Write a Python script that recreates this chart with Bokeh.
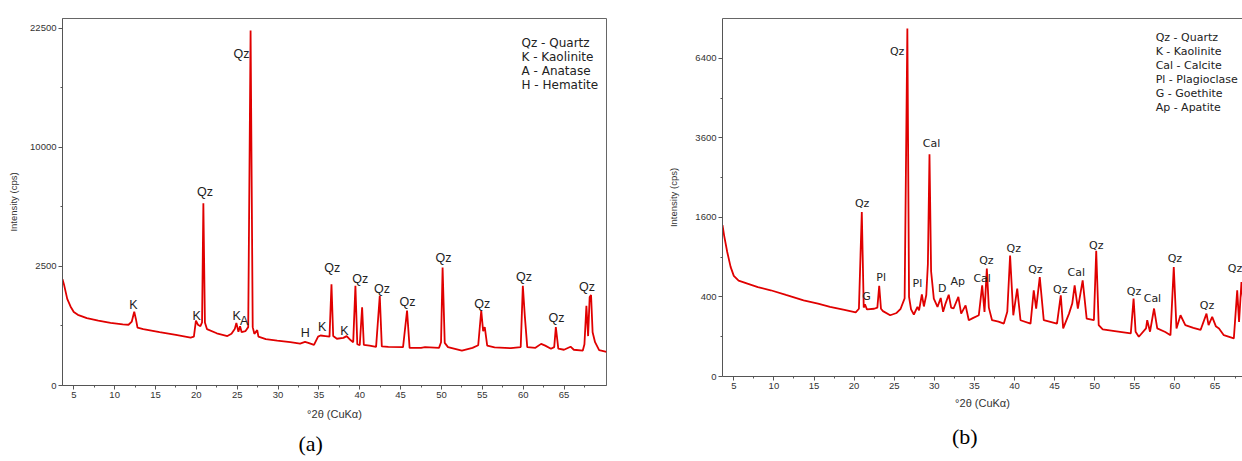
import numpy as np
from bokeh.plotting import figure
from bokeh.models import FixedTicker, LinearAxis, CustomJSTickFormatter
from bokeh.layouts import row
from bokeh.embed import file_html
from bokeh.resources import INLINE
from bokeh.core.properties import value

# ---------------- Panel (a) data ----------------
a_two_theta = [3.62, 3.8, 4.2, 4.6, 5.0, 5.5, 6.6, 8.0, 9.5, 11.0, 11.7, 12.1, 12.4, 12.6, 12.8,
               13.5, 15.5, 17.5, 19.3, 19.7, 19.95, 20.2, 20.5, 20.7, 20.86, 21.05, 21.3, 22.5,
               23.8, 24.3, 24.7, 24.9, 25.15, 25.35, 25.55, 26.0, 26.35, 26.64, 26.9, 27.1, 27.45,
               27.6, 28.5, 29.9, 31.5, 32.7, 33.3, 33.7, 34.4, 34.9, 35.2, 35.8, 36.3, 36.54,
               36.75, 37.2, 38.0, 38.4, 38.9, 39.2, 39.47, 39.7, 40.0, 40.29, 40.5, 41.2, 42.0,
               42.45, 42.7, 43.5, 45.3, 45.79, 46.1, 47.5, 48.0, 49.7, 49.95, 50.14, 50.4, 50.8,
               52.5, 53.8, 54.5, 54.87, 55.1, 55.3, 55.6, 56.5, 58.5, 59.7, 59.96, 60.2, 60.5,
               61.5, 62.2, 62.7, 63.4, 63.8, 64.0, 64.3, 65.0, 65.8, 66.2, 67.3, 67.5, 67.74,
               67.95, 68.14, 68.31, 68.5, 68.8, 69.3, 70.2]
a_intensity = [1990, 1800, 1320, 1100, 950, 880, 800, 740, 690, 660, 650, 720, 960, 780, 590,
               560, 500, 450, 405, 420, 740, 650, 620, 700, 5850, 700, 560, 480,
               430, 470, 560, 690, 510, 620, 500, 520, 600, 22200, 600, 470, 540,
               420, 380, 355, 330, 310, 335, 320, 290, 420, 440, 430, 420, 1800,
               430, 385, 400, 430, 360, 330, 1750, 300, 285, 1080, 290, 280, 262,
               1420, 270, 262, 258, 990, 250, 250, 260, 250, 330, 2450, 320, 260,
               215, 250, 285, 990, 520, 600, 280, 255, 245, 260, 1750, 860, 260,
               250, 305, 280, 238, 260, 600, 240, 225, 265, 225, 215, 300, 1120,
               430, 1380, 1440, 500, 330, 220, 200]
a_label_text = ["K", "K", "Qz", "K", "A", "Qz", "H", "K", "Qz", "K", "Qz", "Qz", "Qz", "Qz",
                "Qz", "Qz", "Qz", "Qz"]
a_label_x = [12.3, 20.05, 21.06, 24.93, 25.85, 25.54, 33.34, 35.41, 36.63, 38.13, 40.05, 42.73,
             45.85, 50.24, 55.0, 60.09, 64.07, 67.8]
a_label_y = [1139, 858, 6561, 858, 740, 19404, 488, 598, 2421, 520, 1989, 1656, 1218, 2841,
             1170, 2070, 795, 1714]
a_legend = ["Qz - Quartz", "K - Kaolinite", "A - Anatase", "H - Hematite"]
a_yticks = [0, 2500, 10000, 22500]
a_yminor = [625, 5625, 15625]
a_caption = "(a)"

# ---------------- Panel (b) data ----------------
b_two_theta = [3.59, 3.8, 4.18, 4.6, 5.0, 5.6, 6.7, 8.0, 9.6, 11.5, 13.7, 15.5, 17.0, 18.8,
               20.2, 20.6, 20.96, 21.2, 21.35, 21.6, 22.5, 22.9, 23.13, 23.35, 23.6, 24.5, 25.3,
               25.8, 26.3, 26.64, 26.85, 27.1, 27.45, 27.9, 28.1, 28.45, 28.7, 29.0, 29.2, 29.4,
               29.6, 29.94, 30.4, 30.8, 31.1, 31.4, 31.8, 32.1, 32.4, 33.0, 33.35, 33.9, 34.3,
               34.8, 35.55, 35.97, 36.26, 36.55, 36.8, 37.2, 38.0, 38.67, 39.1, 39.45, 39.85,
               40.34, 40.75, 42.0, 42.4, 42.7, 43.15, 43.65, 45.3, 45.77, 46.07, 46.8, 47.2,
               47.5, 47.9, 48.5, 49.0, 49.9, 50.19, 50.5, 51.0, 52.5, 54.5, 54.85, 55.1, 55.5,
               56.4, 56.55, 56.9, 57.4, 57.8, 58.8, 59.45, 59.86, 60.2, 60.7, 61.3, 62.3, 63.2,
               63.94, 64.2, 64.65, 65.1, 65.5, 66.1, 67.35, 67.77, 68.0, 68.3, 68.6]
b_intensity = [1450, 1250, 980, 760, 640, 580, 545, 505, 470, 420, 367, 335, 306, 280,
               260, 290, 1710, 300, 330, 285, 290, 300, 520, 290, 270, 237, 255,
               290, 385, 7650, 400, 285, 243, 306, 277, 425, 310, 420, 800, 3120,
               700, 383, 306, 390, 264, 336, 423, 300, 292, 400, 250, 320, 200,
               215, 237, 525, 264, 735, 300, 200, 190, 177, 264, 925, 237,
               488, 200, 177, 469, 292, 625, 200, 177, 416, 146, 250, 336,
               525, 292, 583, 212, 200, 1000, 167, 140, 130, 117, 383, 127, 100,
               146, 200, 127, 292, 146, 125, 108, 756, 146, 237, 167, 150, 137,
               250, 167, 225, 160, 146, 108, 92, 469, 188, 564, 300]
b_label_text = ["Qz", "G", "Pl", "Qz", "Pl", "Cal", "D", "Ap", "Cal", "Qz", "Qz", "Qz", "Qz",
                "Cal", "Qz", "Qz", "Cal", "Qz", "Qz", "Qz"]
b_label_x = [21.0, 21.55, 23.38, 25.37, 27.9, 29.65, 31.0, 32.93, 35.97, 36.5, 39.9, 42.6,
             45.7, 47.7, 50.2, 54.9, 57.2, 60.0, 64.0, 67.5]
b_label_y = [1901, 400, 625, 6691, 552, 3434, 488, 571, 613, 850, 1030, 724, 475, 681, 1082,
             452, 384, 876, 320, 743]
b_legend = ["Qz - Quartz", "K - Kaolinite", "Cal - Calcite", "Pl - Plagioclase",
            "G - Goethite", "Ap - Apatite"]
b_yticks = [0, 400, 1600, 3600, 6400]
b_yminor = [100, 900, 2500, 4900]
b_caption = "(b)"

x_major = [5, 10, 15, 20, 25, 30, 35, 40, 45, 50, 55, 60, 65]
x_minor = [2.5, 7.5, 12.5, 17.5, 22.5, 27.5, 32.5, 37.5, 42.5, 47.5, 52.5, 57.5, 62.5, 67.5]

RED = "#e00000"
AXC = "#555555"
TXT = "#222222"


def style_axes(p, yticks, yminor, x_standoff, y_standoff):
    p.xaxis.ticker = FixedTicker(ticks=x_major, minor_ticks=x_minor)
    p.yaxis.ticker = FixedTicker(ticks=[float(np.sqrt(v)) for v in yticks],
                                 minor_ticks=[float(np.sqrt(v)) for v in yminor])
    p.yaxis.formatter = CustomJSTickFormatter(code="return Math.round(tick*tick).toString();")
    for ax in p.xaxis + p.yaxis:
        ax.axis_line_color = AXC
        ax.major_tick_line_color = AXC
        ax.minor_tick_line_color = AXC
        ax.major_tick_out = 4
        ax.major_tick_in = 0
        ax.minor_tick_out = 2
        ax.minor_tick_in = 0
        ax.major_label_text_font = "Liberation Sans"
        ax.major_label_text_font_size = "9.5px"
        ax.major_label_text_color = "#333333"
        ax.major_label_standoff = 2
        ax.axis_label_text_font = "Liberation Sans"
        ax.axis_label_text_font_style = "normal"
        ax.axis_label_text_color = "#333333"
    p.xaxis.axis_label = "°2θ (CuKα)"
    p.xaxis.axis_label_text_font_size = "11px"
    p.xaxis.axis_label_standoff = x_standoff
    p.yaxis.axis_label = "Intensity (cps)"
    p.yaxis.axis_label_text_font_size = "9.5px"
    p.yaxis.axis_label_standoff = y_standoff
    p.grid.visible = False
    p.background_fill_color = "white"
    p.border_fill_color = "white"


def add_caption(p, x, text, standoff):
    cap = LinearAxis(ticker=FixedTicker(ticks=[x], minor_ticks=[]),
                     formatter=CustomJSTickFormatter(code='return "%s";' % text),
                     axis_line_color=None, major_tick_line_color=None,
                     minor_tick_line_color=None, major_tick_out=0, major_tick_in=0,
                     major_label_standoff=standoff,
                     major_label_text_font="Liberation Serif",
                     major_label_text_font_size="22px",
                     major_label_text_color="#000000")
    p.add_layout(cap, "below")


# ---------------- Figure (a) ----------------
pa = figure(width=660, height=460, x_range=(3.62, 70.2), y_range=(0, 154.0),
            output_backend="svg", toolbar_location=None,
            min_border_left=62, min_border_right=54, min_border_top=18, min_border_bottom=73)
style_axes(pa, a_yticks, a_yminor, 7, 8)
pa.outline_line_color = "#666666"
pa.line(a_two_theta, np.sqrt(a_intensity), line_color=RED, line_width=1.8)
pa.text(x=a_label_x, y=np.sqrt(a_label_y), text=a_label_text, text_align="center",
        text_baseline="middle", text_font=value("Liberation Sans"), text_font_size="12.5px",
        text_color=TXT)
a_leg_y = [143.9 - 5.92 * i for i in range(len(a_legend))]
pa.text(x=[59.8] * len(a_legend), y=a_leg_y, text=a_legend, text_align="left",
        text_baseline="middle", text_font=value("DejaVu Sans"), text_font_size="12px",
        text_color=TXT)
add_caption(pa, 34.0, a_caption, 8)

# ---------------- Figure (b) ----------------
pb = figure(width=582, height=451, x_range=(3.59, 68.43), y_range=(0, 90.0),
            output_backend="svg", toolbar_location=None,
            min_border_left=62, min_border_right=0, min_border_top=18, min_border_bottom=73)
style_axes(pb, b_yticks, b_yminor, 5, 13)
pb.outline_line_color = None
top_axis = LinearAxis(ticker=FixedTicker(ticks=[], minor_ticks=[]), axis_line_color="#666666",
                      major_tick_line_color=None, minor_tick_line_color=None,
                      major_label_text_font_size="0px", major_label_standoff=0,
                      major_tick_out=0)
pb.add_layout(top_axis, "above")
pb.line(b_two_theta, np.sqrt(b_intensity), line_color=RED, line_width=1.8)
pb.text(x=b_label_x, y=np.sqrt(b_label_y), text=b_label_text, text_align="center",
        text_baseline="middle", text_font=value("DejaVu Sans"), text_font_size="11px",
        text_color=TXT)
b_leg_y = [85.25 - 3.5 * i for i in range(len(b_legend))]
pb.text(x=[57.6] * len(b_legend), y=b_leg_y, text=b_legend, text_align="left",
        text_baseline="middle", text_font=value("DejaVu Sans"), text_font_size="11px",
        text_color=TXT)
add_caption(pb, 33.8, b_caption, 12)

layout = row(pa, pb)
open("out.html", "w").write(file_html(layout, INLINE))
